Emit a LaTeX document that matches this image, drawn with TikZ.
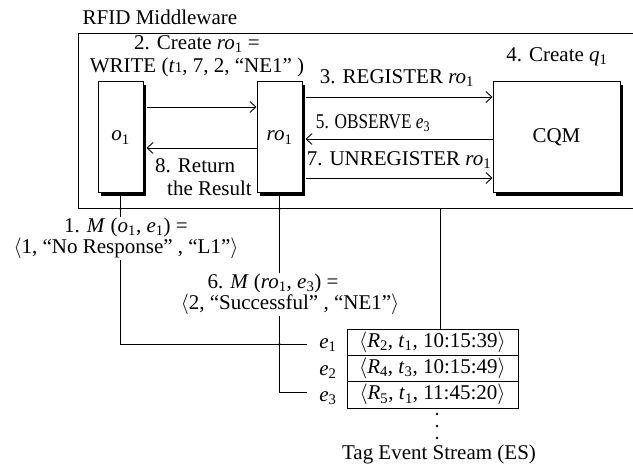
\documentclass[tikz,border=0pt]{standalone}
\usepackage{fontspec}
\setmainfont{Liberation Serif}
\usetikzlibrary{arrows.meta,shadows}
\newcommand{\vi}[1]{\textit{#1}}
\newcommand{\sbs}[1]{\textsubscript{#1}}
\begin{document}
\begin{tikzpicture}[x=1pt,y=-1pt,
  every node/.style={font=\fontsize{21}{23}\selectfont},
  obj/.style={draw, line width=1pt, fill=white, inner sep=0pt,
    drop shadow={shadow xshift=3pt, shadow yshift=-3pt, opacity=1, fill=black}},
  conn/.style={line width=0.9pt},
  arr/.style={conn, -{Straight Barb[length=6pt,width=11pt]}},
  lbl/.style={inner sep=1pt, align=center, fill=white, font=\fontsize{21}{20}\selectfont},
  evbox/.style={draw, line width=0.9pt, minimum width=171pt, minimum height=26.3pt, inner sep=0pt},
  jdot/.style={fill=black}
]
\useasboundingbox (0,0) rectangle (633,468);

% middleware frame
\node[anchor=north west, draw, line width=0.9pt, minimum width=570pt, minimum height=175pt, inner sep=0pt] (mw) at (78,33) {};
\node (title) at (160,17) {RFID Middleware};

% objects
\node[obj, minimum width=45pt, minimum height=111pt] (o1) at (120.5,137.5) {\vi{o}\sbs{1}};
\node[obj, minimum width=45pt, minimum height=111pt] (ro1) at (279.5,137.5) {\vi{ro}\sbs{1}};
\node[obj, minimum width=127pt, minimum height=111pt] (cqm) at (556.5,137.5) {CQM};
\coordinate (o1s) at ([xshift=3pt]o1.east);
\coordinate (ro1s) at ([xshift=3pt]ro1.east);

% arrows inside
\draw[arr] (o1s |- 0,107) -- (ro1.west |- 0,107);
\draw[arr] (ro1.west |- 0,148) -- (o1s |- 0,148);
\draw[arr] (ro1s |- 0,97) -- (cqm.west |- 0,97);
\draw[arr] (cqm.west |- 0,139) -- (ro1s |- 0,139);
\draw[arr] (ro1s |- 0,178) -- (cqm.west |- 0,178);

% labels inside
\node[align=center] (l2) at (197,56.5) {2. Create \vi{ro}\sbs{1} =\\WRITE (\vi{t}{\fontsize{15}{15}\selectfont 1}, 7, 2, “NE1” )};
\node (l3) at (397,78) {3. REGISTER \vi{ro}\sbs{1}};
\node (l4) at (557,57) {4. Create \vi{q}\sbs{1}};
\node (l5) at (373,123) {\scalebox{0.82}[1]{5. OBSERVE \vi{e}\sbs{3}}};
\node (l7) at (399,160) {7. UNREGISTER \vi{ro}\sbs{1}};
\node[align=left, inner sep=0pt] (l8) at (203.5,177.5) {8. Return\\\hspace*{12pt}the Result};

% event table
\node[evbox] (ev1) at (432.5,342.2) {$\langle$\vi{R}\sbs{2}, \vi{t}\sbs{1}, 10:15:39$\rangle$};
\node[evbox] (ev2) at (432.5,368.5) {$\langle$\vi{R}\sbs{4}, \vi{t}\sbs{3}, 10:15:49$\rangle$};
\node[evbox] (ev3) at (432.5,394.8) {$\langle$\vi{R}\sbs{5}, \vi{t}\sbs{1}, 11:45:20$\rangle$};
\node (e1) at (328,345) {\vi{e}\sbs{1}};
\node (e2) at (328,372) {\vi{e}\sbs{2}};
\node (e3) at (328,398) {\vi{e}\sbs{3}};
\coordinate (c1) at (307,344);
\coordinate (c3) at (307,392);

% connectors down
\draw[conn] (o1.south) -- (o1.south |- c1) -- (c1);
\draw[conn] (ro1.south) -- (ro1.south |- c3) -- (c3);
\draw[conn] (mw.south -| 440,0) -- (ev1.north -| 440,0);
\fill[jdot] (o1.south |- mw.south) circle (1.2pt);
\fill[jdot] (ro1.south |- mw.south) circle (1.2pt);
\fill[jdot] (ro1.south |- c1) circle (1.2pt);

% mapping labels
\node[lbl] (m1) at (126,238.5) {1. \vi{M} (\vi{o}\sbs{1}, \vi{e}\sbs{1}) =\\$\langle$1, “No Response” , “L1”$\rangle$};
\node[lbl] (m6) at (290,294.5) {6. \vi{M} (\vi{ro}\sbs{1}, \vi{e}\sbs{3}) =\hspace*{34pt}\\$\langle$2, “Successful” , “NE1”$\rangle$};

% stream continuation
\fill[jdot] (437,414) circle (1.3pt);
\fill[jdot] (437,426) circle (1.3pt);
\fill[jdot] (437,438) circle (1.3pt);
\node (es) at (439,454) {Tag Event Stream (ES)};
\end{tikzpicture}
\end{document}
